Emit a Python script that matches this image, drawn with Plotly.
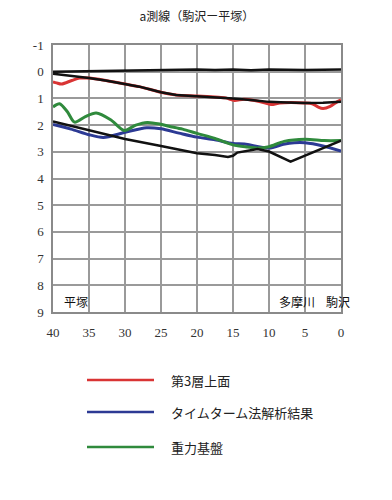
import plotly.graph_objects as go

# ---- data (km from 駒沢, depth km) ----
ground_x = [40, 35, 30, 25, 20, 17.5, 15, 12.5, 10, 5, 2, 0]
ground_y = [0.0, -0.02, -0.05, -0.07, -0.08, -0.06, -0.08, -0.05, -0.08, -0.06, -0.08, -0.08]

upper_black_x = [40, 37.5, 35, 32.5, 30, 28, 26.6, 25, 22.9, 20, 17.5, 15, 12.5, 10, 7.5, 5, 2.5, 0]
upper_black_y = [0.08, 0.15, 0.24, 0.34, 0.46, 0.56, 0.66, 0.77, 0.87, 0.91, 0.95, 1.0, 1.06, 1.13, 1.15, 1.17, 1.16, 1.13]

lower_black_x = [40, 35, 30, 25, 20, 17.5, 15.7, 15, 14.4, 11.6, 10, 7, 0]
lower_black_y = [1.86, 2.2, 2.52, 2.78, 3.05, 3.12, 3.19, 3.15, 3.03, 2.9, 2.99, 3.37, 2.58]

layer3_x = [40, 39.5, 38.8, 37.4, 36.3, 35, 32.5, 30, 28, 26.6, 25, 22.9, 20, 17, 16, 14.8, 13.5, 12, 10.5, 9.7, 8.5, 7, 5, 4, 3.2, 2.5, 1.5, 0.5, 0]
layer3_y = [0.38, 0.42, 0.46, 0.33, 0.24, 0.24, 0.34, 0.46, 0.56, 0.66, 0.77, 0.87, 0.91, 0.96, 0.98, 1.08, 1.03, 1.08, 1.17, 1.23, 1.17, 1.15, 1.17, 1.2, 1.32, 1.38, 1.3, 1.12, 1.06]

timeterm_x = [40, 37.5, 35, 33, 30, 27, 25, 22.5, 20, 17.5, 15, 13.4, 10, 8, 6.5, 5, 2.5, 0]
timeterm_y = [1.98, 2.15, 2.36, 2.46, 2.27, 2.1, 2.14, 2.3, 2.45, 2.55, 2.69, 2.71, 2.86, 2.72, 2.66, 2.66, 2.78, 2.97]

gravity_x = [40, 39.1, 38, 37, 35.5, 34, 32, 30.1, 28.5, 26.9, 25, 23.9, 22, 20, 17.5, 15, 13, 11.6, 10, 7.9, 5, 2.3, 0]
gravity_y = [1.32, 1.2, 1.5, 1.89, 1.68, 1.55, 1.8, 2.2, 2.0, 1.9, 1.97, 2.04, 2.15, 2.31, 2.5, 2.74, 2.82, 2.86, 2.81, 2.61, 2.53, 2.58, 2.58]

x_ticks = [40, 35, 30, 25, 20, 15, 10, 5, 0]
y_ticks = [-1, 0, 1, 2, 3, 4, 5, 6, 7, 8, 9]

series_names = ["第3層上面", "タイムターム法解析結果", "重力基盤"]
series_colors = ["#d93434", "#2c3a94", "#2f8a3c"]

title_text = "a測線（駒沢ー平塚）"
place_labels = [("平塚", 36.8, 8.6), ("多摩川", 6.1, 8.6), ("駒沢", 0.45, 8.6)]

# ---- figure (page body has an 8px margin) ----
OFF = 8
W, H = 392 - OFF, 500 - OFF
ML, MT = 53 - OFF, 45 - OFF
MR = W - (341 - OFF)
MB = H - (312 - OFF)
PW, PH = W - ML - MR, H - MT - MB

fig = go.Figure()
colored = [(layer3_x, layer3_y), (timeterm_x, timeterm_y), (gravity_x, gravity_y)]
for (xs, ys), name, col in zip(colored, series_names, series_colors):
    fig.add_trace(go.Scatter(x=xs, y=ys, mode="lines", name=name,
                             line=dict(color=col, width=3, shape="spline", smoothing=0.8),
                             showlegend=False))
for xs, ys in [(ground_x, ground_y), (upper_black_x, upper_black_y), (lower_black_x, lower_black_y)]:
    fig.add_trace(go.Scatter(x=xs, y=ys, mode="lines", line=dict(color="#111111", width=2.5),
                             showlegend=False, hoverinfo="skip"))

tick_font = dict(family="Times New Roman", size=13, color="#333333")
xaxis = dict(range=[40, 0], tickmode="array", tickvals=x_ticks,
             ticktext=[str(v) for v in x_ticks],
             showgrid=True, gridcolor="#9a9a9a", gridwidth=1.5, zeroline=False,
             showline=True, mirror=True, linecolor="#8a8a8a", linewidth=1.5,
             tickfont=tick_font, ticks="outside", ticklen=8, tickcolor="rgba(255,255,255,0)")
yaxis = dict(range=[9, -1], tickmode="array", tickvals=y_ticks,
             ticktext=[str(v) for v in y_ticks],
             showgrid=True, gridcolor="#9a9a9a", gridwidth=1.5, zeroline=False,
             showline=True, mirror=True, linecolor="#8a8a8a", linewidth=1.5,
             tickfont=tick_font, ticks="outside", ticklen=5, tickcolor="rgba(255,255,255,0)")

cjk = "Noto Sans CJK JP"
annotations = []
for txt, xv, yv in place_labels:
    annotations.append(dict(x=xv, y=yv, xref="x", yref="y", text=txt, showarrow=False,
                            font=dict(family=cjk, size=12, color="#111111")))

# manual legend (positions given in page pixels)
def px_x(px):
    return (px - OFF - ML) / PW

def px_y(py):
    return (H - MB - (py - OFF)) / PH

shapes = []
legend_rows = [380, 412, 447]
for name, col, py in zip(series_names, series_colors, legend_rows):
    shapes.append(dict(type="line", xref="paper", yref="paper",
                       x0=px_x(87), x1=px_x(154), y0=px_y(py), y1=px_y(py),
                       line=dict(color=col, width=2.5)))
    annotations.append(dict(xref="paper", yref="paper", x=px_x(169), y=px_y(py), text=name,
                            showarrow=False, xanchor="left", yanchor="middle",
                            font=dict(family=cjk, size=13, color="#222222")))

fig.update_layout(
    template="none",
    width=W, height=H,
    margin=dict(l=ML, r=MR, t=MT, b=MB),
    paper_bgcolor="white", plot_bgcolor="white",
    xaxis=xaxis, yaxis=yaxis,
    shapes=shapes, annotations=annotations,
    title=dict(text=title_text, x=(197 - OFF) / W, xanchor="center", y=1 - (17 - OFF) / H,
               yanchor="middle", font=dict(family=cjk, size=12, color="#222222")),
    showlegend=False,
)

fig.write_html("out.html")
